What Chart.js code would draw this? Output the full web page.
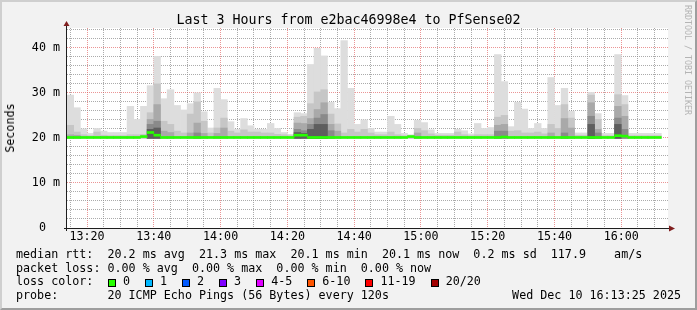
<!DOCTYPE html>
<html>
<head>
<meta charset="utf-8">
<script src="https://cdn.jsdelivr.net/npm/chart.js@4.4.1/dist/chart.umd.min.js"></script>
<style>
  body { margin: 0; background: #f2f2f2; }
  #wrap { position: relative; width: 697px; height: 310px; background: #f2f2f2; overflow: hidden;
          font-family: "DejaVu Sans Mono", monospace; color: #000; }
  #frame { position: absolute; left: 0; top: 0; width: 697px; height: 310px; box-sizing: border-box;
           border: 2px solid; border-color: #cfcfcf #9e9e9e #9e9e9e #cfcfcf; pointer-events: none; }
  canvas { position: absolute; left: 0; top: 0; }
  .txt { position: absolute; white-space: pre; font-size: 11.7px; line-height: 13.6px; }
  #title { position: absolute; left: 0; width: 697px; top: 11.5px; text-align: center;
           font-size: 13.3px; line-height: 16px; white-space: pre; }
  #ylabel { position: absolute; left: 10px; top: 127.5px; font-size: 11.7px; line-height: 14px;
            transform: translate(-50%, -50%) rotate(-90deg); white-space: pre; }
  #mark { position: absolute; left: 683px; top: 5px; width: 9px; font-size: 8.3px; line-height: 9px;
          writing-mode: vertical-rl; color: #b4b4b4; white-space: pre; }
  .box { position: absolute; width: 8px; height: 8px; box-sizing: border-box; border: 1px solid #000; }
</style>
</head>
<body>
<div id="wrap">
  <canvas id="chart" width="697" height="310"></canvas>
  <div id="title">Last 3 Hours from e2bac46998e4 to PfSense02</div>
  <div id="ylabel">Seconds</div>
  <div id="mark">RRDTOOL / TOBI OETIKER</div>
  <div class="txt" style="left:16px;top:248px">median rtt:  20.2 ms avg  21.3 ms max  20.1 ms min  20.1 ms now  0.2 ms sd  117.9    am/s</div>
  <div class="txt" style="left:16px;top:261.6px">packet loss: 0.00 % avg  0.00 % max  0.00 % min  0.00 % now</div>
  <div class="txt" style="left:16px;top:275.2px">loss color:</div>
  <div id="lossLegend"></div>
  <div class="txt" style="left:16px;top:288.8px">probe:       20 ICMP Echo Pings (56 Bytes) every 120s</div>
  <div class="txt" style="right:16px;top:288.8px">Wed Dec 10 16:13:25 2025</div>
  <div id="frame"></div>
</div>
<script>
// time axis: 2 minute steps from 13:14, minutes since midnight
const startMin = 13 * 60 + 14;
const endMin = 16 * 60 + 14;
const stepMin = 2;
const xTickLabels = ["13:20", "13:40", "14:00", "14:20", "14:40", "15:00", "15:20", "15:40", "16:00"];
const yTickValues = [0, 10, 20, 30, 40];
const yTickLabels = ["0  ", "10 m", "20 m", "30 m", "40 m"];

// smoke bands (ms): outermost (max ping) to innermost
const smokeFloor = 19.9;
const maxRtt = [
  29.5, 26.7, 22.0, 21.0, 22.1, 21.5, 21.2, 21.2, 21.2, 27.0,
  24.1, 27.0, 31.6, 38.1, 28.7, 30.7, 27.2, 26.2, 27.6, 30.0,
  25.8, 22.2, 31.0, 28.5, 23.6, 21.9, 24.3, 22.7, 21.9, 21.9,
  23.2, 22.1, 21.2, 20.8, 25.6, 25.4, 36.3, 39.9, 38.2, 27.9,
  26.5, 41.6, 31.0, 23.0, 24.0, 22.1, 21.3, 21.3, 24.8, 23.0,
  21.0, 20.7, 23.9, 23.4, 21.8, 21.0, 21.0, 21.0, 21.9, 21.6,
  20.9, 23.2, 22.1, 22.3, 38.5, 32.5, 22.5, 27.9, 26.4, 22.1,
  23.2, 22.1, 33.4, 27.2, 31.0, 25.9, 21.1, 21.1, 30.1, 25.4,
  21.0, 21.0, 38.5, 29.4, 21.0, 21.0, 21.0, 21.0, 21.0
];
const band1 = [
  22.8, 21.3, 20.7, 20.5, 21.3, 20.6, 20.5, 20.5, 20.5, 20.7,
  20.7, 20.8, 25.6, 32.0, 23.7, 23.0, 21.5, 21.1, 25.3, 28.0,
  23.7, 21.1, 22.2, 24.4, 21.5, 21.1, 21.8, 21.3, 21.3, 21.1,
  21.1, 20.8, 20.7, 20.5, 24.6, 24.8, 27.6, 30.2, 30.7, 25.3,
  23.1, 21.1, 21.9, 21.3, 21.9, 21.1, 20.7, 20.7, 21.3, 20.7,
  20.5, 20.5, 22.1, 21.6, 20.9, 20.6, 20.6, 20.6, 21.3, 20.7,
  20.5, 20.7, 20.7, 20.7, 24.6, 25.0, 21.5, 21.6, 21.1, 21.1,
  21.3, 20.9, 23.0, 22.1, 27.4, 24.4, 20.6, 20.6, 29.5, 24.1,
  20.5, 20.5, 29.6, 27.4, 20.5, 20.5, 20.5, 20.5, 20.5
];
const band2 = [
  20.7, 20.6, null, null, null, null, null, null, null, null,
  null, null, 24.1, 27.4, 21.5, 21.2, null, null, 21.1, 23.3,
  21.0, null, 21.0, 22.2, null, null, null, null, null, null,
  null, null, null, null, 23.3, 23.2, 24.3, 26.3, 27.8, 23.0,
  21.5, null, null, null, null, null, null, null, null, null,
  null, null, 21.1, null, null, null, null, null, null, null,
  null, null, null, null, 22.8, 23.0, null, null, null, null,
  null, null, 21.1, null, 24.3, 22.2, null, null, 27.8, 21.9,
  null, null, 27.0, 24.8, null, null, null, null, null
];
const band3 = [
  null, null, null, null, null, null, null, null, null, null,
  null, null, 23.0, 23.7, null, null, null, null, null, 21.1,
  null, null, null, null, null, null, null, null, null, null,
  null, null, null, null, 21.9, 21.6, 23.0, 24.4, 25.2, 21.6,
  null, null, null, null, null, null, null, null, null, null,
  null, null, null, null, null, null, null, null, null, null,
  null, null, null, null, 21.5, 21.5, null, null, null, null,
  null, null, null, null, 21.1, null, null, null, 24.8, 21.1,
  null, null, 24.4, 21.9, null, null, null, null, null
];
const band4 = [
  null, null, null, null, null, null, null, null, null, null,
  null, null, 21.9, 22.2, null, null, null, null, null, null,
  null, null, null, null, null, null, null, null, null, null,
  null, null, null, null, 21.2, 21.0, 21.9, 23.0, 23.0, null,
  null, null, null, null, null, null, null, null, null, null,
  null, null, null, null, null, null, null, null, null, null,
  null, null, null, null, null, null, null, null, null, null,
  null, null, null, null, null, null, null, null, 23.0, null,
  null, null, 23.0, null, null, null, null, null, null
];
const medianRtt = [
  20.1, 20.1, 20.1, 20.1, 20.1, 20.1, 20.1, 20.1, 20.1, 20.1,
  20.1, 20.3, 21.2, 20.6, 20.1, 20.1, 20.1, 20.1, 20.1, 20.1,
  20.1, 20.1, 20.1, 20.1, 20.1, 20.1, 20.1, 20.1, 20.1, 20.1,
  20.1, 20.1, 20.1, 20.1, 20.6, 20.6, 20.1, 20.1, 20.1, 20.1,
  20.1, 20.1, 20.1, 20.1, 20.1, 20.1, 20.1, 20.1, 20.1, 20.1,
  20.1, 20.3, 20.1, 20.1, 20.1, 20.1, 20.1, 20.1, 20.1, 20.1,
  20.1, 20.1, 20.1, 20.1, 20.1, 20.2, 20.1, 20.1, 20.1, 20.1,
  20.1, 20.1, 20.1, 20.1, 20.1, 20.1, 20.1, 20.1, 20.1, 20.1,
  20.1, 20.1, 20.5, 20.4, 20.1, 20.1, 20.1, 20.1, 20.1
];

const lossLabels = ["0", "1", "2", "3", "4-5", "6-10", "11-19", "20/20"];
const lossColors = ["#26ff00", "#00b8ff", "#0059ff", "#7e00ff", "#e000ff", "#ff5500", "#ff0000", "#a10000"];

// loss colour legend boxes
const lossLegend = document.getElementById("lossLegend");
let boxLeft = 108;
lossLabels.forEach((lbl, i) => {
  const box = document.createElement("div");
  box.className = "box";
  box.style.left = boxLeft + "px";
  box.style.top = "278.5px";
  box.style.background = lossColors[i];
  lossLegend.appendChild(box);
  const t = document.createElement("div");
  t.className = "txt";
  t.style.left = boxLeft + 15 + "px";
  t.style.top = "275.2px";
  t.textContent = lbl;
  lossLegend.appendChild(t);
  boxLeft += 30 + 7.04 * lbl.length;
});

function toMin(label) {
  const [h, m] = label.split(":").map(Number);
  return h * 60 + m;
}
const xMajor = xTickLabels.map(toMin);

function bandData(tops) {
  return tops
    .map((top, i) => (top == null ? null : { x: startMin + stepMin * (i + 0.5), y: [smokeFloor, top] }))
    .filter((p) => p);
}

function smokeSet(tops, color, order) {
  return {
    data: bandData(tops),
    backgroundColor: color,
    borderWidth: 0,
    grouped: false,
    barPercentage: 1,
    categoryPercentage: 1,
    order: order,
  };
}

const gridColor = "rgba(143,143,143,0.75)";
const majorColor = "rgba(222,79,79,0.6)";
const tickFont = { family: "DejaVu Sans Mono", size: 11.7 };

// white canvas behind the data
const canvasBg = {
  id: "canvasBg",
  beforeDraw(chart) {
    const { ctx, chartArea: a } = chart;
    ctx.save();
    ctx.fillStyle = "#ffffff";
    ctx.fillRect(a.left, a.top, a.right - a.left, a.bottom - a.top);
    ctx.restore();
  },
};

// rrdtool style axes with arrows
const axesArrows = {
  id: "axesArrows",
  afterDraw(chart) {
    const { ctx, chartArea: a } = chart;
    ctx.save();
    ctx.fillStyle = "#1f1f1f";
    ctx.fillRect(a.left - 3, a.bottom, a.right - a.left + 4, 1);
    ctx.fillRect(a.left - 1, a.top - 2, 1, a.bottom - a.top + 5);
    ctx.fillStyle = "#801f1f";
    ctx.beginPath();
    ctx.moveTo(a.left - 0.5, a.top - 7);
    ctx.lineTo(a.left - 3.5, a.top - 2);
    ctx.lineTo(a.left + 2.5, a.top - 2);
    ctx.closePath();
    ctx.fill();
    ctx.beginPath();
    ctx.moveTo(a.right + 7, a.bottom + 0.5);
    ctx.lineTo(a.right + 1, a.bottom - 2.5);
    ctx.lineTo(a.right + 1, a.bottom + 3.5);
    ctx.closePath();
    ctx.fill();
    ctx.restore();
  },
};

new Chart(document.getElementById("chart"), {
  type: "bar",
  data: {
    datasets: [
      {
        data: medianRtt.map((m, i) => ({ x: startMin + stepMin * (i + 0.5), y: [m - 0.22, m + 0.22] })),
        backgroundColor: lossColors[0],
        borderWidth: 0,
        grouped: false,
        barPercentage: 1,
        categoryPercentage: 1,
        order: 0,
      },
      smokeSet(band4, "#5e5e5e", 1),
      smokeSet(band3, "#8a8a8a", 2),
      smokeSet(band2, "#a9a9a9", 3),
      smokeSet(band1, "#c6c6c6", 4),
      smokeSet(maxRtt, "#dddddd", 5),
    ],
  },
  options: {
    responsive: false,
    animation: false,
    events: [],
    layout: { padding: { left: 0, top: 28, right: 29, bottom: 62 } },
    plugins: { legend: { display: false }, tooltip: { enabled: false } },
    scales: {
      x: {
        type: "linear",
        min: startMin,
        max: endMin,
        offset: false,
        z: 1,
        afterFit: (s) => { s.height = 20; },
        afterBuildTicks: (s) => {
          const ticks = [];
          for (let v = Math.ceil(startMin / 5) * 5; v < endMin; v += 5) ticks.push({ value: v });
          s.ticks = ticks;
        },
        ticks: {
          autoSkip: false,
          maxRotation: 0,
          padding: 2,
          color: "#000",
          font: tickFont,
          callback: (v) => {
            const k = xMajor.indexOf(v);
            return k >= 0 ? xTickLabels[k] : "";
          },
        },
        grid: {
          offset: false,
          drawTicks: false,
          lineWidth: 1,
          color: (c) => (c.tick && xMajor.includes(c.tick.value) ? majorColor : gridColor),
        },
        border: { display: false, dash: [1, 1] },
      },
      y: {
        min: 0,
        max: 44.4,
        z: 1,
        afterFit: (s) => { s.width = 67; },
        afterBuildTicks: (s) => {
          const ticks = [];
          for (let v = 0; v <= 44; v += 2) ticks.push({ value: v });
          s.ticks = ticks;
        },
        ticks: {
          autoSkip: false,
          padding: 7,
          color: "#000",
          font: tickFont,
          callback: (v) => {
            const k = yTickValues.indexOf(v);
            return k >= 0 ? yTickLabels[k] : "";
          },
        },
        grid: {
          drawTicks: false,
          lineWidth: 1,
          color: (c) => (c.tick && c.tick.value % 10 === 0 ? majorColor : gridColor),
        },
        border: { display: false, dash: [1, 1] },
      },
    },
  },
  plugins: [canvasBg, axesArrows],
});
</script>
</body>
</html>
